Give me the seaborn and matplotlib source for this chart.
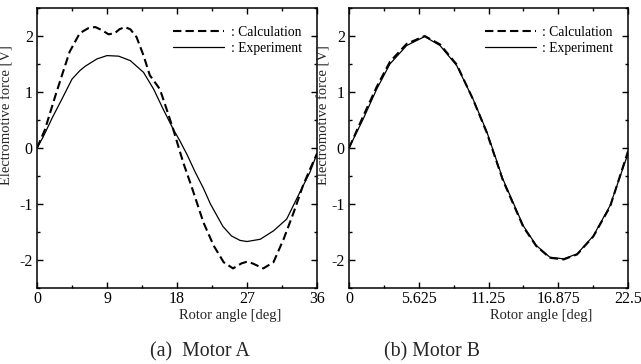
import numpy as np
import pandas as pd
import matplotlib
matplotlib.use("Agg")
import matplotlib.pyplot as plt
import seaborn as sns
from matplotlib.ticker import FixedLocator, MultipleLocator

# ---------------- data ----------------
# Motor A
a_calc_x = [0, 1.0, 2.4, 3.4, 4.2, 5.5, 6.6, 7.5, 8.4, 9.2, 10.0, 10.6, 11.3, 12.0, 12.8,
            13.7, 14.5, 15.8, 16.6, 17.5, 18.8, 19.9, 21.4, 22.7, 24.0, 25.2, 26.3, 27.0,
            27.7, 29.1, 30.4, 31.7, 33.0, 34.2, 35.1, 36.0]
a_calc_y = [0, 0.32, 0.95, 1.38, 1.72, 2.05, 2.14, 2.16, 2.10, 2.03, 2.05, 2.12, 2.16, 2.12, 1.98,
            1.65, 1.30, 1.05, 0.72, 0.34, -0.26, -0.70, -1.33, -1.74, -2.04, -2.15, -2.06, -2.03,
            -2.06, -2.15, -2.04, -1.63, -1.15, -0.67, -0.38, -0.10]
a_exp_x = [0, 0.8, 2.0, 3.3, 4.5, 5.5, 6.2, 7.7, 9.0, 10.5, 12.0, 13.7, 15.0, 16.2, 17.5,
           18.4, 19.3, 20.3, 21.4, 22.3, 23.9, 25.0, 26.1, 27.0, 28.7, 30.4, 32.1, 33.8, 35.1, 36.0]
a_exp_y = [0, 0.20, 0.55, 0.90, 1.23, 1.38, 1.46, 1.59, 1.65, 1.64, 1.56, 1.35, 1.05, 0.70, 0.34,
           0.12, -0.12, -0.42, -0.72, -1.00, -1.40, -1.57, -1.65, -1.67, -1.63, -1.48, -1.27,
           -0.79, -0.43, -0.10]

# Motor B
b_exp_x = [0, 1.15, 2.23, 3.3, 4.65, 6.1, 7.34, 8.69, 10.0, 11.1, 12.4, 14.06, 15.1, 16.2,
           17.3, 18.4, 19.7, 21.05, 22.5]
b_exp_y = [0, 0.52, 1.05, 1.50, 1.83, 1.99, 1.83, 1.47, 0.875, 0.30, -0.55, -1.39, -1.74, -1.95,
           -1.98, -1.89, -1.57, -1.03, -0.10]
b_calc_x = [0, 1.15, 2.23, 3.3, 4.65, 6.1, 7.34, 8.69, 10.0, 11.1, 12.4, 14.06, 15.1, 16.2,
            17.3, 18.4, 19.7, 21.05, 22.5]
b_calc_y = [0, 0.57, 1.09, 1.54, 1.86, 2.00, 1.85, 1.49, 0.87, 0.28, -0.57, -1.41, -1.75, -1.96,
            -1.99, -1.90, -1.58, -1.05, -0.06]

a_ticks = [0, 9, 18, 27, 36]
a_ticklabels = ["0", "9", "18", "27", "36"]
b_ticks = [0, 5.625, 11.25, 16.875, 22.5]
b_ticklabels = ["0", "5.625", "11.25", "16.875", "22.5"]
y_ticks = [-2, -1, 0, 1, 2]
y_ticklabels = ["-2", "-1", "0", "1", "2"]

calc_label = ": Calculation"
exp_label = ": Experiment"
xlabel = "Rotor angle [deg]"
ylabel = "Electromotive force [V]"
captions = ["(a)  Motor A", "(b) Motor B"]

# ---------------- style ----------------
sns.set_style("ticks")
plt.rcParams['font.family'] = ['Liberation Serif', 'DejaVu Serif']
plt.rcParams['axes.unicode_minus'] = False
plt.rcParams['axes.linewidth'] = 1.1

W, H = 641, 364
fig = plt.figure(figsize=(W / 100, H / 100), dpi=100)
fig.patch.set_facecolor("white")


def px_axes(l, r, t, b):
    return fig.add_axes([l / W, 1 - b / H, (r - l) / W, (b - t) / H])


def draw(ax, cx, cy, ex, ey, xmax, ticks, ticklabels, minor_step, legend_right):
    df_c = pd.DataFrame({"angle": cx, "emf": cy})
    df_e = pd.DataFrame({"angle": ex, "emf": ey})
    sns.lineplot(data=df_c, x="angle", y="emf", ax=ax, color="black", lw=1.5,
                 label=calc_label, sort=False)
    ax.lines[-1].set_dashes((4, 2))
    sns.lineplot(data=df_e, x="angle", y="emf", ax=ax, color="black", lw=0.9,
                 label=exp_label, sort=False)
    ax.set_xlim(0, xmax)
    ax.set_ylim(-2.5, 2.5)
    ax.xaxis.set_major_locator(FixedLocator(ticks))
    ax.set_xticklabels(ticklabels)
    ax.xaxis.set_minor_locator(MultipleLocator(minor_step))
    ax.yaxis.set_major_locator(FixedLocator(y_ticks))
    ax.set_yticklabels(y_ticklabels)
    ax.yaxis.set_minor_locator(MultipleLocator(0.5))
    ax.tick_params(which="both", direction="in", top=True, right=True,
                   color="black", width=1.0, labelsize=11.5, labelcolor="black")
    ax.tick_params(which="major", length=4)
    ax.tick_params(which="minor", length=2.5)
    ax.tick_params(axis="x", which="major", pad=2.5)
    ax.tick_params(axis="y", which="major", pad=3.0)
    for s in ax.spines.values():
        s.set_color("black")
        s.set_visible(True)
    ax.set_xlabel(xlabel, fontsize=10.5)
    ax.set_ylabel(ylabel, fontsize=10.5)
    ax.xaxis.set_label_coords(0.69, -0.075)
    leg = ax.legend(loc="upper right", bbox_to_anchor=(legend_right, 0.936),
                    frameon=False, fontsize=9.8, handlelength=3.8, handletextpad=0.45,
                    labelspacing=0.22, borderpad=0, borderaxespad=0)
    for t in leg.get_texts():
        t.set_color("black")
    ax.set_facecolor("white")


ax1 = px_axes(37, 317, 8, 288)
draw(ax1, a_calc_x, a_calc_y, a_exp_x, a_exp_y, 36, a_ticks, a_ticklabels, 4.5, 0.945)
ax1.yaxis.set_label_coords((14 - 37) / 280, 0.618)

ax2 = px_axes(349, 628, 8, 288)
draw(ax2, b_calc_x, b_calc_y, b_exp_x, b_exp_y, 22.5, b_ticks, b_ticklabels, 2.8125, 0.948)
ax2.yaxis.set_label_coords((330 - 349) / 279, 0.618)

fig.text(200 / W, 1 - 352 / H, captions[0], ha="center", va="center", fontsize=14.3)
fig.text(432 / W, 1 - 352 / H, captions[1], ha="center", va="center", fontsize=14.3)

fig.savefig("out.png", dpi=100, facecolor="white")
